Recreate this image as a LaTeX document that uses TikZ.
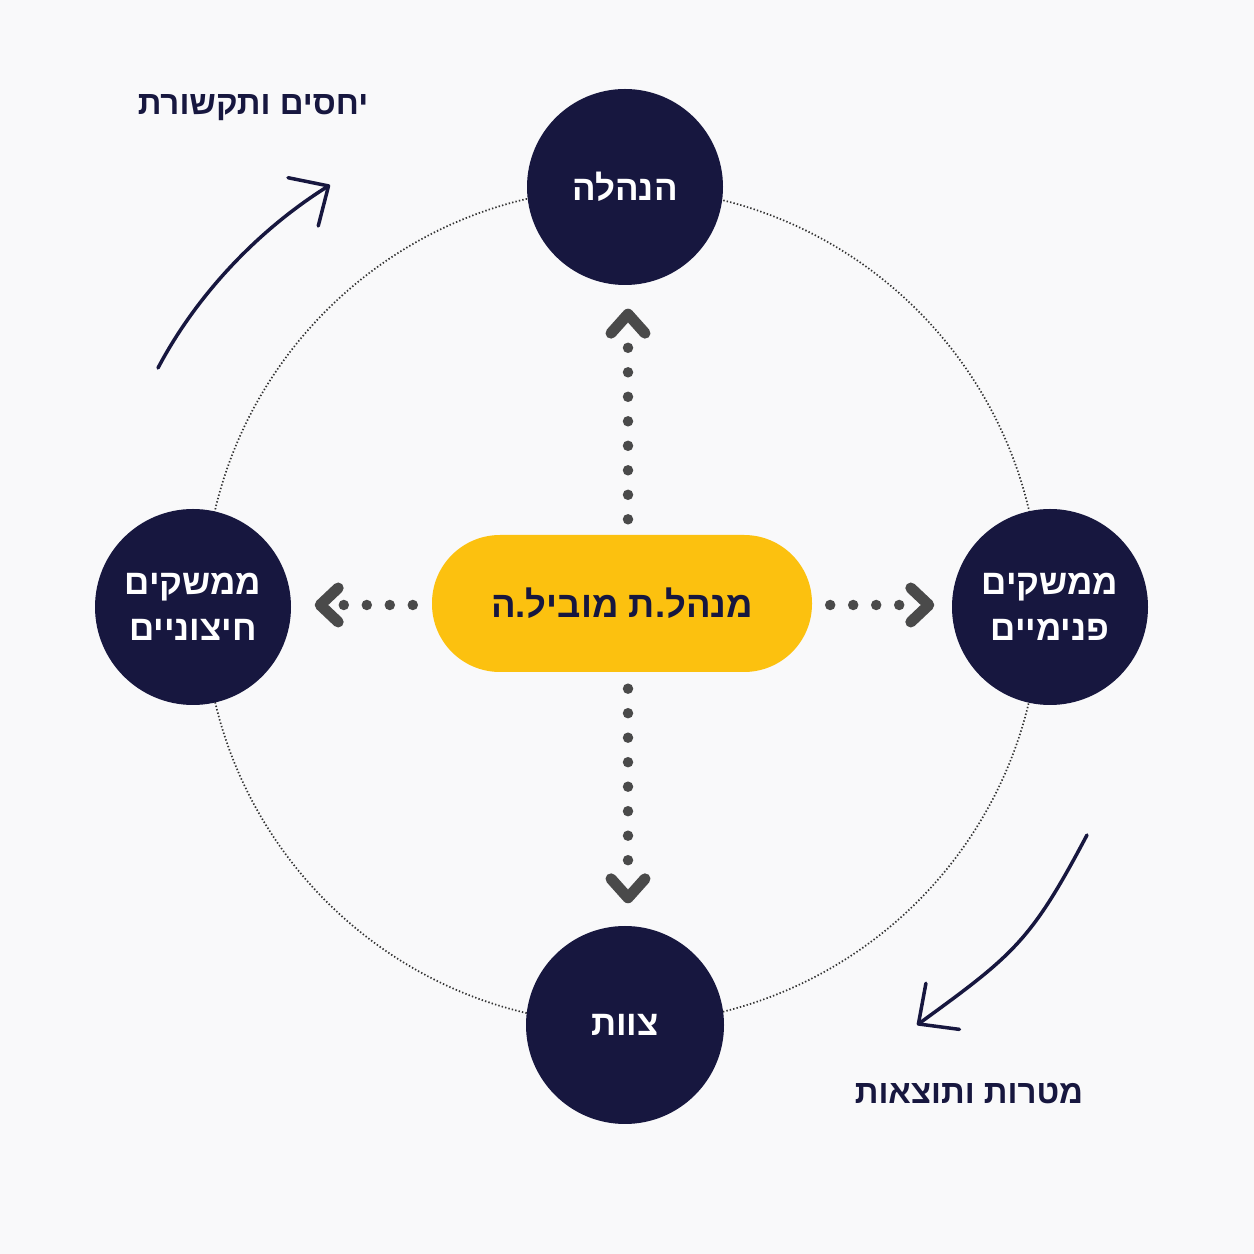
\documentclass[tikz,border=0pt]{standalone}
\usepackage{fontspec}
\usetikzlibrary{arrows.meta,calc}
\newfontfamily\heb[Script=Hebrew]{Liberation Sans}
\TeXXeTstate=1
\definecolor{navy}{HTML}{17173F}
\definecolor{gold}{HTML}{FCC10F}
\definecolor{dotgrey}{HTML}{4A4A4A}
\definecolor{bg}{HTML}{F9F9FA}
\definecolor{ringgrey}{HTML}{333333}
\newcommand{\RL}[1]{\beginR#1\endR}
\begin{document}
\begin{tikzpicture}[x=1pt,y=1pt,
  hubnode/.style={circle, fill=navy, minimum size=196pt, inner sep=0pt, text=white,
    font=\heb\bfseries\fontsize{35}{46}\selectfont, align=center},
  pillnode/.style={rectangle, rounded corners=68pt, fill=gold, minimum width=380pt,
    minimum height=137pt, inner sep=0pt, text=navy, font=\heb\bfseries\fontsize{36.5}{44}\selectfont},
  dotline/.style={dotgrey, line width=10.5pt, line cap=round, dash pattern=on 0pt off 24.5pt},
  hdotline/.style={dotline, dash pattern=on 0pt off 23pt},
  chev/.style={dotgrey, line width=11pt, line cap=round, line join=round},
  ring/.style={ringgrey, line width=1.7pt, dash pattern=on 1.4pt off 2.1pt},
  flow/.style={navy, line width=3.5pt, line cap=round,
    -{Straight Barb[length=30pt,width=57pt,line width=3.5pt,round]}},
  lab/.style={text=navy, inner sep=0pt, font=\heb\bfseries\fontsize{33}{40}\selectfont}]

\fill[bg] (0,0) rectangle (1254,1254);
\useasboundingbox (0,0) rectangle (1254,1254);

\draw[ring] (622,648) circle[radius=418];

\node[hubnode] (top) at (625,1067) {\RL{הנהלה}};
\node[hubnode, minimum size=198pt] (bot) at (625,229) {\RL{צוות}};
\node[hubnode] (left) at (193,647) {\RL{ממשקים}\\\RL{חיצוניים}};
\node[hubnode] (right) at (1050,647) {\RL{ממשקים}\\\RL{פנימיים}};
\node[pillnode] (hub) at (622,650.5) {\RL{מנהל.ת מוביל.ה}};

% up
\draw[dotline] ($(hub.north)+(6,15.5)$) -- ($(top.south)+(3,-54)$);
\draw[chev] ($(top.south)+(-14,-48)$) -- ($(top.south)+(3,-29)$) -- ($(top.south)+(20,-48)$);
% down
\draw[dotline] ($(hub.south)+(6,-16.5)$) -- ($(bot.north)+(3,62)$);
\draw[chev] ($(bot.north)+(-14,47)$) -- ($(bot.north)+(3,28)$) -- ($(bot.north)+(20,47)$);
% left
\draw[hdotline] ($(hub.west)+(-19,-1.5)$) -- ($(left.east)+(49,2)$);
\draw[chev] ($(left.east)+(47,19)$) -- ($(left.east)+(29,2)$) -- ($(left.east)+(47,-15)$);
% right
\draw[hdotline] ($(hub.east)+(18,-1.5)$) -- ($(right.west)+(-47,2)$);
\draw[chev] ($(right.west)+(-41,19)$) -- ($(right.west)+(-23,2)$) -- ($(right.west)+(-41,-15)$);

% curved arrows
\coordinate (a1s) at (158,886);
\coordinate (a1e) at (330,1069);
\draw[flow] (a1s) .. controls (197,960) and (259,1024.5) .. (a1e);
\coordinate (a2s) at (1087,419);
\coordinate (a2e) at (917,229);
\draw[flow] (a2s) .. controls (1031,313) and (1014,299.5) .. (a2e);

\node[lab] (l1) at (253,1146) {\RL{יחסים ותקשורת}};
\node[lab] (l2) at (969,161) {\RL{מטרות ותוצאות}};
\end{tikzpicture}
\end{document}
